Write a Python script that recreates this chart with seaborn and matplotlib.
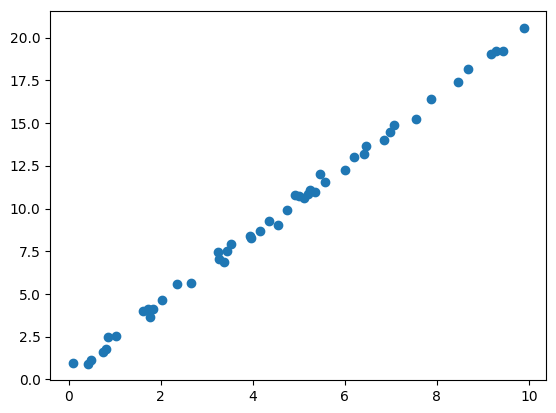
import matplotlib
matplotlib.use("Agg")
import matplotlib.pyplot as plt
import seaborn as sns
import pandas as pd

# values
x_vals = [0.09, 0.41, 0.49, 0.75, 0.81, 0.85, 1.03,
          1.62, 1.72, 1.83, 1.77, 2.02, 2.35, 2.65,
          3.24, 3.26, 3.38, 3.43, 3.53, 3.93, 3.96, 4.15,
          4.36, 4.55, 4.74, 4.92, 5.00, 5.12, 5.20, 5.25,
          5.36, 5.47, 5.57, 6.00, 6.19, 6.41, 6.47, 6.85,
          6.99, 7.07, 7.54, 7.88, 8.46, 8.67, 9.17, 9.29,
          9.45, 9.89]
y_vals = [0.94, 0.93, 1.15, 1.60, 1.76, 2.50, 2.56,
          4.00, 4.13, 4.13, 3.65, 4.66, 5.60, 5.65,
          7.48, 7.07, 6.86, 7.52, 7.93, 8.42, 8.28, 8.67,
          9.25, 9.06, 9.92, 10.82, 10.74, 10.62, 10.86, 11.09,
          10.99, 12.03, 11.56, 12.26, 13.02, 13.18, 13.68, 14.03,
          14.46, 14.91, 15.24, 16.43, 17.42, 18.17, 19.04, 19.24,
          19.24, 20.60]

df = pd.DataFrame({"x": x_vals, "y": y_vals})

fig = plt.figure(figsize=(5.56, 4.13), dpi=100)
ax = fig.add_axes([0.0905, 0.079, 0.892, 0.895])
sns.scatterplot(data=df, x="x", y="y", ax=ax, color="#1f77b4",
                edgecolor="#1f77b4", linewidth=1, s=36, alpha=1)
ax.set_xlabel("")
ax.set_ylabel("")
ax.set_yticks([0, 2.5, 5, 7.5, 10, 12.5, 15, 17.5, 20])
ax.set_yticklabels(["0.0", "2.5", "5.0", "7.5", "10.0", "12.5", "15.0", "17.5", "20.0"])
ax.set_xticks([0, 2, 4, 6, 8, 10])
fig.savefig("out.png", dpi=100)
